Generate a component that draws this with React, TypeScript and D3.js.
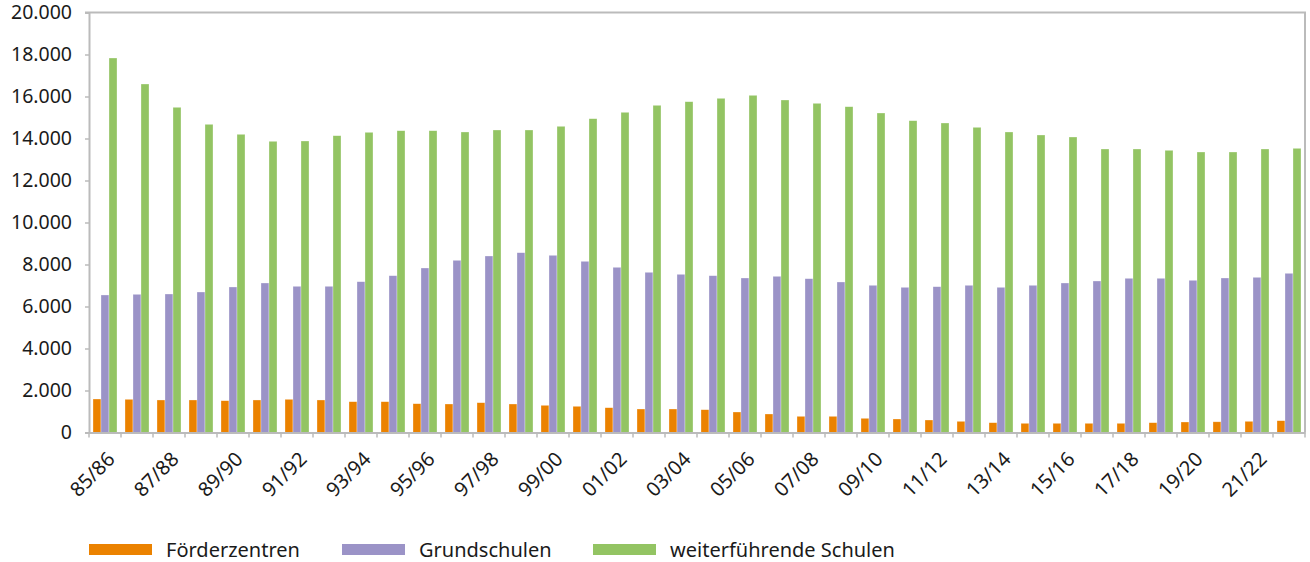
import React, { useEffect, useRef } from "react";
import * as d3 from "d3";

const years: string[] = [
  "85/86", "86/87", "87/88", "88/89", "89/90", "90/91", "91/92", "92/93", "93/94", "94/95",
  "95/96", "96/97", "97/98", "98/99", "99/00", "00/01", "01/02", "02/03", "03/04", "04/05",
  "05/06", "06/07", "07/08", "08/09", "09/10", "10/11", "11/12", "12/13", "13/14", "14/15",
  "15/16", "16/17", "17/18", "18/19", "19/20", "20/21", "21/22", "22/23",
];

const foerderzentren: number[] = [
  1595, 1581, 1548, 1548, 1514, 1548, 1581, 1548, 1467, 1467,
  1371, 1357, 1419, 1357, 1295, 1248, 1181, 1119, 1119, 1086,
  976, 881, 771, 771, 676, 643, 595, 533, 467, 438,
  438, 438, 438, 467, 500, 510, 533, 562,
];

const grundschulen: number[] = [
  6548, 6581, 6595, 6690, 6929, 7119, 6962, 6962, 7181, 7467,
  7833, 8200, 8405, 8562, 8438, 8152, 7867, 7629, 7533, 7467,
  7357, 7438, 7324, 7167, 7010, 6914, 6943, 7010, 6914, 7010,
  7119, 7214, 7343, 7343, 7248, 7357, 7390, 7581,
];

const weiterfuehrend: number[] = [
  17833, 16595, 15486, 14676, 14200, 13867, 13881, 14133, 14295, 14371,
  14371, 14310, 14405, 14405, 14581, 14943, 15248, 15581, 15752, 15914,
  16057, 15833, 15676, 15514, 15214, 14848, 14738, 14533, 14310, 14167,
  14071, 13500, 13500, 13438, 13357, 13357, 13500, 13533,
];

const seriesNames: string[] = ["Förderzentren", "Grundschulen", "weiterführende Schulen"];
const seriesColors: string[] = ["#EB8200", "#9B93C7", "#93C463"];
const yTicks: number[] = [0, 2000, 4000, 6000, 8000, 10000, 12000, 14000, 16000, 18000, 20000];

const FONT = "'Noto Sans', 'Open Sans', sans-serif";

const App = () => {
  const svgRef = useRef<SVGSVGElement>(null);

  useEffect(() => {
    const W = 1310;
    const H = 562;
    const margin = { top: 12.5, right: 5, bottom: 129.5, left: 89 };
    const width = W - margin.left - margin.right;
    const height = H - margin.top - margin.bottom;

    const svg = d3.select(svgRef.current);
    svg.selectAll("*").remove();

    const x = d3.scaleBand<string>().domain(years).range([0, width]).paddingInner(0).paddingOuter(0);
    const x1 = d3
      .scaleBand<number>()
      .domain([0, 1, 2])
      .range([4, x.bandwidth() - 4]);
    const y = d3.scaleLinear().domain([0, 20000]).range([height, 0]);

    const g = svg.append("g").attr("transform", `translate(${margin.left},${margin.top})`);

    // plot border (top/right)
    g.append("path")
      .attr("d", `M-4,0H${width}V${height}`)
      .attr("fill", "none")
      .attr("stroke", "#BBBBBB")
      .attr("stroke-width", 2);

    // bars
    const allSeries = [foerderzentren, grundschulen, weiterfuehrend];
    allSeries.forEach((values, si) => {
      g.append("g")
        .selectAll("rect")
        .data(values)
        .join("rect")
        .attr("x", (_d, i) => (x(years[i]) as number) + (x1(si) as number))
        .attr("y", (d) => y(d))
        .attr("width", x1.bandwidth())
        .attr("height", (d) => height - y(d))
        .attr("fill", seriesColors[si])
        .attr("stroke", "#FFFFFF")
        .attr("stroke-opacity", 0.5)
        .attr("stroke-width", 0.6);
    });

    // y axis
    const yAxis = g.append("g").call(
      d3
        .axisLeft(y)
        .tickValues(yTicks)
        .tickSize(4)
        .tickPadding(13)
        .tickFormat((d) => d3.format(",")(d as number).replace(/,/g, "."))
    );
    yAxis.select(".domain").attr("stroke", "#BBBBBB").attr("stroke-width", 2);
    yAxis.selectAll(".tick line").attr("stroke", "#BBBBBB").attr("stroke-width", 1.5);
    yAxis
      .selectAll(".tick text")
      .attr("font-family", FONT)
      .attr("font-size", 19.5)
      .attr("fill", "#1a1a1a");

    // x axis
    const xAxis = g
      .append("g")
      .attr("transform", `translate(0,${height})`)
      .call(d3.axisBottom(x).tickSize(0).tickFormat(() => ""));
    xAxis.select(".domain").attr("stroke", "#BBBBBB").attr("stroke-width", 2);
    xAxis.selectAll(".tick").remove();

    // boundary ticks
    xAxis
      .append("g")
      .selectAll("line")
      .data(d3.range(years.length + 1))
      .join("line")
      .attr("x1", (i) => i * x.step())
      .attr("x2", (i) => i * x.step())
      .attr("y1", 0)
      .attr("y2", 5)
      .attr("stroke", "#BBBBBB")
      .attr("stroke-width", 1.5);

    // rotated labels every second category
    xAxis
      .append("g")
      .selectAll("text")
      .data(years.filter((_d, i) => i % 2 === 0))
      .join("text")
      .attr("transform", (d) => {
        const cx = (x(d) as number) + x.bandwidth() / 2 + 11;
        return `translate(${cx},${28}) rotate(-45)`;
      })
      .attr("text-anchor", "end")
      .attr("font-family", FONT)
      .attr("font-size", 20)
      .attr("fill", "#1a1a1a")
      .text((d) => d);

    // legend
    const legendX = [89, 342, 593];
    const legend = svg.append("g").attr("transform", `translate(0,${549.5})`);
    seriesNames.forEach((name, i) => {
      legend
        .append("rect")
        .attr("x", legendX[i])
        .attr("y", -5.5)
        .attr("width", 63)
        .attr("height", 11)
        .attr("fill", seriesColors[i]);
      legend
        .append("text")
        .attr("x", legendX[i] + 77)
        .attr("y", 0)
        .attr("dy", "0.35em")
        .attr("font-family", FONT)
        .attr("font-size", 20)
        .attr("fill", "#1a1a1a")
        .text(name);
    });
  }, []);

  return (
    <svg
      ref={svgRef}
      width={1310}
      height={562}
      style={{ position: "absolute", left: 0, top: 0, background: "#fff" }}
    ></svg>
  );
};

export default App;
